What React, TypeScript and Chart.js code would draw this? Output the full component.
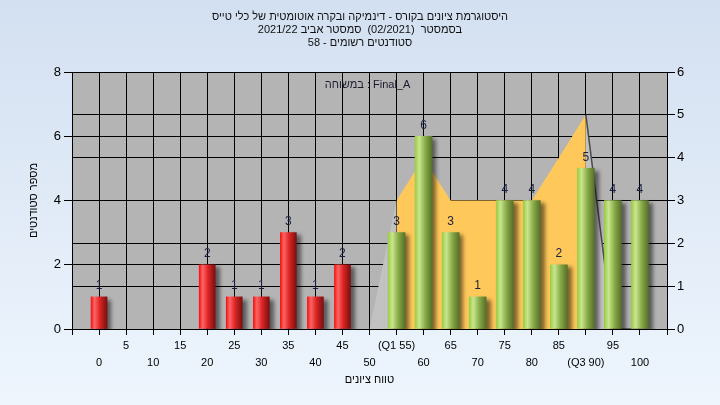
import { useEffect, useRef } from 'react';
import { Chart, registerables } from 'chart.js';

Chart.register(...registerables);

const FONT = "'Liberation Sans', 'DejaVu Sans', Arial, sans-serif";

const TITLE_LINES = [
  'היסטוגרמת ציונים בקורס - דינמיקה ובקרה אוטומטית של כלי טייס',
  'בסמסטר  (02/2021)  סמסטר אביב 2021/22',
  'סטודנטים רשומים - 58',
];
const X_TITLE = 'טווח ציונים';
const Y_TITLE = 'מספר סטודנטים';
const INNER_LABEL = 'במשוחה : Final_A';

// failing grades (red)
const RED_X = [0, 20, 25, 30, 35, 40, 45];
const RED_Y = [1, 2, 1, 1, 3, 1, 2];
// passing grades (green)
const GREEN_X = [55, 60, 65, 70, 75, 80, 85, 90, 95, 100];
const GREEN_Y = [3, 6, 3, 1, 4, 4, 2, 5, 4, 4];
// distribution area (right axis)
const AREA_X = [50, 55, 60, 65, 70, 75, 80, 85, 90, 95, 100];
const AREA_Y = [0, 3, 4, 3, 3, 3, 3, 4, 5, 0, 0];
const Q1 = 55;
const Q3 = 90;
const SPECIAL_TICKS: Record<number, string> = { 55: '(Q1 55)', 90: '(Q3 90)' };

const ORANGE = '#ffc85a';
const LIGHT_GRAY = '#c2c2c2';
const PLOT_BG = '#b4b4b4';

function barGradient(c: any, stops: [number, string][], width: number) {
  const chart = c.chart;
  const xs = chart.scales && chart.scales.x;
  if (!xs || !chart.chartArea || c.type !== 'data' || !c.raw) return stops[1][1];
  const x = xs.getPixelForValue(c.raw.x);
  if (!Number.isFinite(x)) return stops[1][1];
  const g = chart.ctx.createLinearGradient(x - width / 2, 0, x + width / 2, 0);
  stops.forEach(([o, col]) => g.addColorStop(o, col));
  return g;
}

const RED_STOPS: [number, string][] = [
  [0, '#f41414'],
  [0.22, '#ff6464'],
  [0.55, '#dc2424'],
  [1, '#7a1010'],
];
const GREEN_STOPS: [number, string][] = [
  [0, '#9ccc48'],
  [0.25, '#c8e68c'],
  [0.6, '#88aa48'],
  [1, '#56702a'],
];

const bgPlugin = {
  id: 'bgPlugin',
  beforeDraw(chart: any) {
    const { ctx, width, height, chartArea } = chart;
    ctx.save();
    const g = ctx.createLinearGradient(0, 0, 0, height);
    g.addColorStop(0, '#d3e0f1');
    g.addColorStop(1, '#eef5fd');
    ctx.fillStyle = g;
    ctx.fillRect(0, 0, width, height);
    ctx.fillStyle = PLOT_BG;
    ctx.fillRect(chartArea.left, chartArea.top, chartArea.right - chartArea.left, chartArea.bottom - chartArea.top);
    ctx.restore();
  },
  beforeDatasetsDraw(chart: any) {
    const { ctx, chartArea } = chart;
    ctx.save();
    ctx.font = `11px ${FONT}`;
    ctx.fillStyle = '#1a1a30';
    ctx.textAlign = 'center';
    ctx.textBaseline = 'middle';
    ctx.fillText(INNER_LABEL, (chartArea.left + chartArea.right) / 2 - 2, chartArea.top + 13);
    ctx.restore();
  },
  beforeDatasetDraw(chart: any, args: any) {
    if (args.meta.type !== 'bar') return;
    const ctx = chart.ctx;
    ctx.save();
    ctx.shadowColor = 'rgba(0,0,0,0.5)';
    ctx.shadowOffsetX = 4;
    ctx.shadowOffsetY = 3;
    ctx.shadowBlur = 4;
  },
  afterDatasetDraw(chart: any, args: any) {
    if (args.meta.type !== 'bar') return;
    chart.ctx.restore();
  },
  afterDatasetsDraw(chart: any) {
    const ctx = chart.ctx;
    ctx.save();
    ctx.font = `12px ${FONT}`;
    ctx.fillStyle = '#1a2040';
    ctx.textAlign = 'center';
    ctx.textBaseline = 'middle';
    chart.data.datasets.forEach((ds: any, di: number) => {
      if (ds.type !== 'bar') return;
      const meta = chart.getDatasetMeta(di);
      meta.data.forEach((el: any, i: number) => {
        ctx.fillText(String(ds.data[i].y), el.x, el.y - 11);
      });
    });
    ctx.restore();
  },
};

export default function App() {
  const ref = useRef<HTMLCanvasElement | null>(null);

  useEffect(() => {
    document.body.style.margin = '0';
    const canvas = ref.current;
    if (!canvas) return;
    const chart = new Chart(canvas, {
      type: 'bar',
      data: {
        datasets: [
          {
            type: 'bar',
            data: RED_X.map((x, i) => ({ x, y: RED_Y[i] })),
            backgroundColor: (c: any) => barGradient(c, RED_STOPS, 16),
            barThickness: 16,
            grouped: false,
            yAxisID: 'y',
            order: 1,
          } as any,
          {
            type: 'bar',
            data: GREEN_X.map((x, i) => ({ x, y: GREEN_Y[i] })),
            backgroundColor: (c: any) => barGradient(c, GREEN_STOPS, 17),
            barThickness: 17,
            grouped: false,
            yAxisID: 'y',
            order: 1,
          } as any,
          {
            type: 'line',
            data: AREA_X.map((x, i) => ({ x, y: AREA_Y[i] })),
            yAxisID: 'y1',
            fill: 'origin',
            tension: 0,
            pointRadius: 0,
            borderWidth: 1.5,
            borderColor: 'rgba(0,0,0,0)',
            backgroundColor: ORANGE,
            order: 10,
            segment: {
              backgroundColor: (c: any) =>
                c.p0.parsed.x >= Q1 && c.p1.parsed.x <= Q3 ? ORANGE : LIGHT_GRAY,
              borderColor: (c: any) => (c.p0.parsed.x >= Q3 ? '#4a4a4a' : 'rgba(0,0,0,0)'),
            },
          } as any,
        ],
      },
      options: {
        animation: false,
        responsive: false,
        layout: { padding: 0 },
        plugins: {
          legend: { display: false },
          tooltip: { enabled: false },
          title: {
            display: true,
            text: TITLE_LINES,
            color: '#101010',
            font: { family: FONT, size: 11, weight: 'normal', lineHeight: 13 / 11 },
            padding: { top: 10, bottom: 23 },
          },
        },
        scales: {
          x: {
            type: 'linear',
            min: -5,
            max: 105,
            offset: false,
            afterBuildTicks: (s: any) => {
              const t = [];
              for (let v = -5; v <= 105; v += 5) t.push({ value: v });
              s.ticks = t;
            },
            ticks: {
              autoSkip: false,
              maxRotation: 0,
              minRotation: 0,
              padding: 2,
              color: '#000',
              font: { family: FONT, size: 11, lineHeight: 17 / 11 },
              callback: (v: any) => {
                const n = Math.round(Number(v));
                if (n < 0 || n > 100) return '';
                const lab = SPECIAL_TICKS[n] ?? String(n);
                return (n / 5) % 2 === 1 ? [lab, ''] : ['', lab];
              },
            },
            grid: { color: '#000', lineWidth: 1, tickLength: 6, offset: false },
            border: { color: '#000' },
            title: {
              display: true,
              text: X_TITLE,
              color: '#000',
              font: { family: FONT, size: 11, lineHeight: 1.2 },
              padding: { top: 0, bottom: 18 },
            },
            afterFit: (s: any) => {
              s.height = 76;
            },
          } as any,
          y: {
            position: 'left',
            min: 0,
            max: 8,
            ticks: { stepSize: 2, color: '#000', padding: 3, font: { family: FONT, size: 13 } },
            grid: { color: '#000', tickLength: 8 },
            border: { color: '#000' },
            title: {
              display: true,
              text: Y_TITLE,
              color: '#000',
              font: { family: FONT, size: 11, lineHeight: 1.2 },
              padding: { top: 27, bottom: 0 },
            },
            afterFit: (s: any) => {
              s.width = 72;
            },
          } as any,
          y1: {
            position: 'right',
            min: 0,
            max: 6,
            ticks: { stepSize: 1, color: '#000', padding: 2, font: { family: FONT, size: 13 } },
            grid: { color: '#000', tickLength: 8 },
            border: { color: '#000' },
            afterFit: (s: any) => {
              s.width = 53;
            },
          } as any,
        },
      },
      plugins: [bgPlugin],
    } as any);
    return () => chart.destroy();
  }, []);

  return (
    <div style={{ width: 720, height: 405 }}>
      <canvas ref={ref} width={720} height={405} style={{ display: 'block', width: 720, height: 405 }} />
    </div>
  );
}
